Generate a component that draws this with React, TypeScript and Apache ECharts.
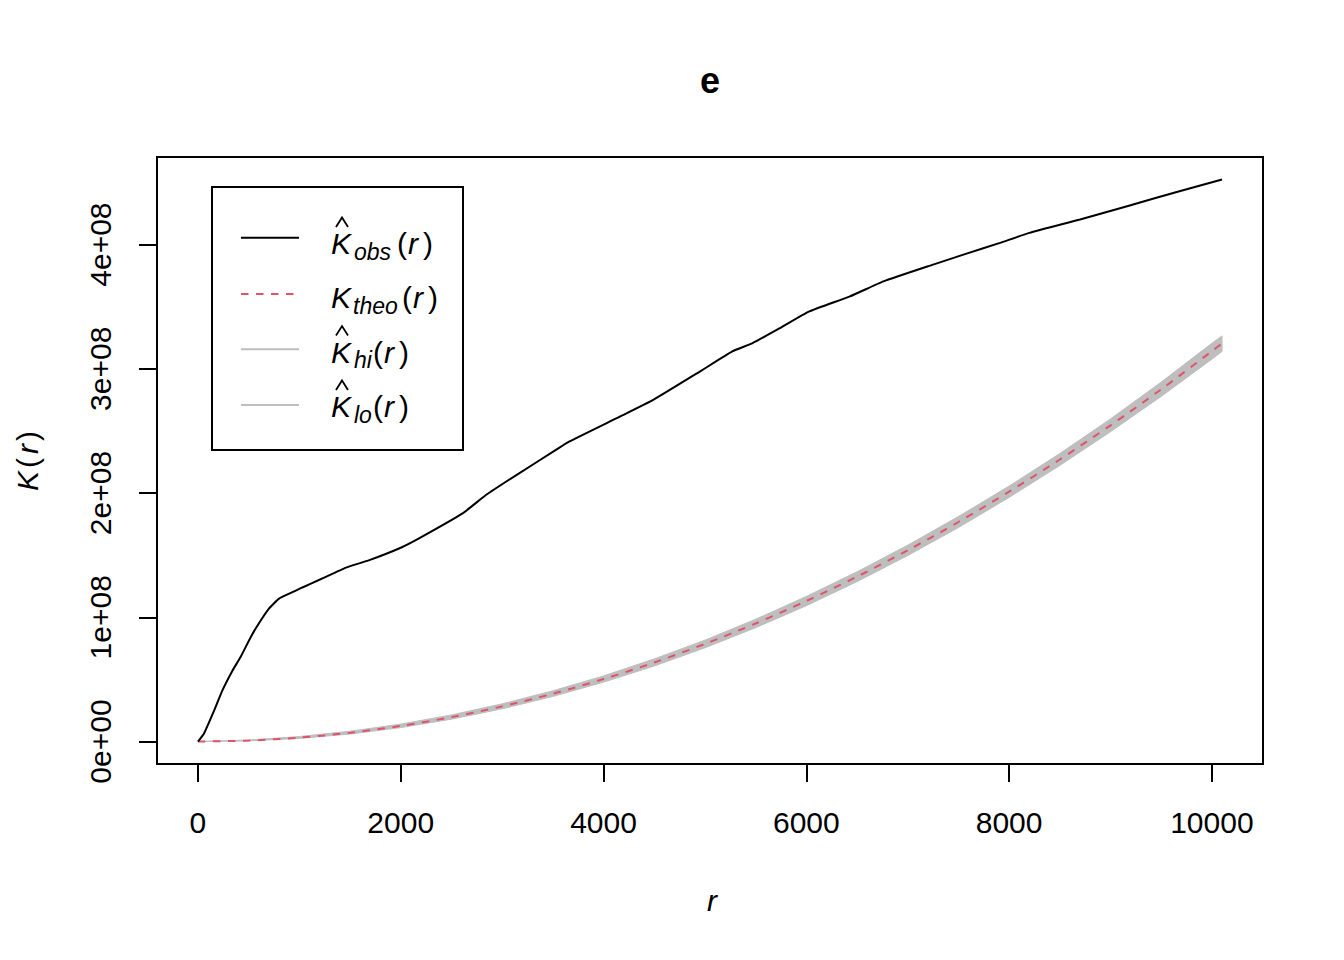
import React, { useEffect, useRef } from "react";
import * as echarts from "echarts";

// Observed K function (r, K in millions)
const R_OBS = [0, 60, 160, 240, 340, 420, 520, 600, 700, 800, 900, 1030, 1220, 1460, 1690, 2000, 2180, 2610, 2840, 3140, 3530, 3660, 4160, 4490, 4950, 5270, 5470, 5740, 6030, 6430, 6760, 7250, 7580, 7910, 8200, 8700, 9190, 9680, 10100];
const K_OBS = [0, 6.5, 25, 41, 57, 68, 84, 95, 107, 115, 119, 124, 131, 140, 146, 156, 163.5, 183.6, 198.4, 214.5, 234.7, 241.4, 261.5, 275, 297.8, 314, 320.7, 332.8, 346.2, 358.3, 370.4, 383.9, 392.7, 401.4, 409.4, 420.2, 431.5, 443, 452.4];

// Envelope & theoretical (millions)
const R_ENV = [0, 500, 1000, 1500, 2000, 2500, 3000, 3500, 4000, 4500, 5000, 5500, 6000, 6500, 7000, 7500, 8000, 8500, 9000, 9500, 10000, 10100];
const K_THEO = [0, 0.785, 3.14, 7.07, 12.57, 19.63, 28.27, 38.48, 50.27, 63.62, 78.54, 95.03, 113.1, 132.7, 153.9, 176.7, 201.1, 227.0, 254.5, 283.5, 314.2, 320.5];
const K_HI = [0, 1.2, 4.0, 8.3, 14.0, 21.4, 30.3, 40.8, 52.8, 66.5, 81.6, 98.4, 116.8, 136.6, 158.0, 181.1, 205.6, 231.8, 259.7, 289.3, 320.6, 326.5];
const K_LO = [0, 0.5, 2.5, 6.0, 11.2, 18.0, 26.3, 36.3, 47.8, 60.8, 75.4, 91.6, 109.3, 128.7, 149.7, 172.2, 196.5, 222.2, 249.4, 277.8, 307.8, 313.9];

const X_TICKS = [0, 2000, 4000, 6000, 8000, 10000];
const Y_TICKS = [0, 100, 200, 300, 400];
const Y_TICK_LABELS = ["0e+00", "1e+08", "2e+08", "3e+08", "4e+08"];

const FONT = "Liberation Sans, Arial, Helvetica, sans-serif";
const LW = 2;
const RED = "#DF536B";
const GRAY = "#BEBEBE";

function txt(x: number, y: number, text: string, size: number, italic: boolean, extra: any = {}) {
  return {
    type: "text",
    x,
    y,
    silent: true,
    rotation: extra.rotation || 0,
    style: {
      text,
      fill: "#000",
      font: `${italic ? "italic " : ""}${extra.bold ? "bold " : ""}${size}px ${FONT}`,
      textAlign: extra.align || "left",
      textVerticalAlign: "middle",
      lineHeight: extra.lineHeight,
    },
  };
}

function legendRow(B: number, sub: string, hat: boolean, subX: number, parX: number) {
  const els: any[] = [];
  els.push(txt(331, B - 10.5, "K", 30, true, { lineHeight: 22 }));
  if (hat) {
    els.push({
      type: "polyline",
      silent: true,
      shape: { points: [[336, B - 27], [342, B - 36.5], [348, B - 27]] },
      style: { stroke: "#000", lineWidth: 1.8, fill: null },
    });
  }
  els.push(txt(subX, B - 2.5, sub, 23, true, { lineHeight: 20 }));
  els.push(txt(parX, B - 10.5, "(", 30, false, { lineHeight: 22 }));
  els.push(txt(parX + 11, B - 10.5, "r", 30, true, { lineHeight: 22 }));
  els.push(txt(parX + 26, B - 10.5, ")", 30, false, { lineHeight: 22 }));
  return els;
}

export default function App() {
  const ref = useRef<HTMLDivElement>(null);
  useEffect(() => {
    document.body.style.margin = "0";
    if (!ref.current) return;
    const chart = echarts.init(ref.current, null, { renderer: "svg" });
    const obs = R_OBS.map((r, i) => [r, K_OBS[i]]);
    const theo = R_ENV.map((r, i) => [r, K_THEO[i]]);

    const legendLines = [237.7, 294, 349.3, 405];
    const graphic: any[] = [
      txt(710, 80, "e", 36, false, { bold: true, align: "center" }),
      txt(712, 900, "r", 30, true, { align: "center" }),
      txt(27, 481, "K", 30, true, { align: "center", rotation: Math.PI / 2 }),
      txt(27, 463, "(", 30, false, { align: "center", rotation: Math.PI / 2 }),
      txt(27, 449, "r", 30, true, { align: "center", rotation: Math.PI / 2 }),
      txt(27, 436, ")", 30, false, { align: "center", rotation: Math.PI / 2 }),
      {
        type: "rect",
        shape: { x: 212, y: 187, width: 251, height: 263 },
        style: { fill: "#fff", stroke: "#000", lineWidth: LW },
        z: 10,
      },
      { type: "line", shape: { x1: 241, y1: legendLines[0], x2: 299, y2: legendLines[0] }, style: { stroke: "#000", lineWidth: LW }, z: 11 },
      { type: "line", shape: { x1: 241, y1: legendLines[1], x2: 299, y2: legendLines[1] }, style: { stroke: RED, lineWidth: LW, lineDash: [7.5, 7.5] }, z: 11 },
      { type: "line", shape: { x1: 241, y1: legendLines[2], x2: 299, y2: legendLines[2] }, style: { stroke: GRAY, lineWidth: LW }, z: 11 },
      { type: "line", shape: { x1: 241, y1: legendLines[3], x2: 299, y2: legendLines[3] }, style: { stroke: GRAY, lineWidth: LW }, z: 11 },
      ...legendRow(254, "obs", true, 354, 397).map((e) => ({ ...e, z: 11 })),
      ...legendRow(308.3, "theo", false, 353, 402).map((e) => ({ ...e, z: 11 })),
      ...legendRow(362.6, "hi", true, 354, 373).map((e) => ({ ...e, z: 11 })),
      ...legendRow(417, "lo", true, 354, 373).map((e) => ({ ...e, z: 11 })),
    ];

    chart.setOption({
      animation: false,
      backgroundColor: "#fff",
      grid: {
        left: 157,
        top: 157,
        width: 1106,
        height: 607,
        show: true,
        borderColor: "#000",
        borderWidth: LW,
        backgroundColor: "transparent",
        containLabel: false,
      },
      xAxis: {
        type: "value",
        min: -404,
        max: 10504,
        axisLine: { show: false, onZero: false },
        splitLine: { show: false },
        axisTick: {
          show: true,
          customValues: X_TICKS,
          length: 18,
          lineStyle: { color: "#000", width: LW },
        },
        axisLabel: {
          customValues: X_TICKS,
          fontSize: 30,
          fontFamily: FONT,
          color: "#000",
          margin: 43,
          formatter: (v: number) => String(v),
        },
      },
      yAxis: {
        type: "value",
        min: -18.1,
        max: 470.5,
        axisLine: { show: false, onZero: false },
        splitLine: { show: false },
        axisTick: {
          show: true,
          customValues: Y_TICKS,
          length: 18,
          lineStyle: { color: "#000", width: LW },
        },
        axisLabel: {
          customValues: Y_TICKS,
          rotate: 90,
          fontSize: 30,
          fontFamily: FONT,
          color: "#000",
          margin: 42,
          formatter: (v: number) => {
            const i = Y_TICKS.indexOf(Math.round(v));
            return i >= 0 ? Y_TICK_LABELS[i] : "";
          },
        },
      },
      series: [
        {
          type: "custom",
          name: "envelope",
          coordinateSystem: "cartesian2d",
          data: [[0, 0]],
          silent: true,
          renderItem: (params: any, api: any) => {
            if (params.dataIndex !== 0) return null;
            const pts: number[][] = [];
            for (let i = 0; i < R_ENV.length; i++) pts.push(api.coord([R_ENV[i], K_HI[i]]));
            for (let i = R_ENV.length - 1; i >= 0; i--) pts.push(api.coord([R_ENV[i], K_LO[i]]));
            return {
              type: "polygon",
              shape: { points: pts, smooth: 0 },
              style: { fill: GRAY, stroke: GRAY, lineWidth: 1 },
            };
          },
        },
        {
          type: "line",
          name: "theo",
          data: theo,
          showSymbol: false,
          smooth: 0.3,
          lineStyle: { color: RED, width: LW, type: [7.5, 7.5] },
          silent: true,
        },
        {
          type: "line",
          name: "obs",
          data: obs,
          showSymbol: false,
          smooth: 0.15,
          lineStyle: { color: "#000", width: LW },
          silent: true,
        },
      ],
      graphic,
    });
    return () => chart.dispose();
  }, []);
  return <div ref={ref} style={{ width: 1344, height: 960 }} />;
}
